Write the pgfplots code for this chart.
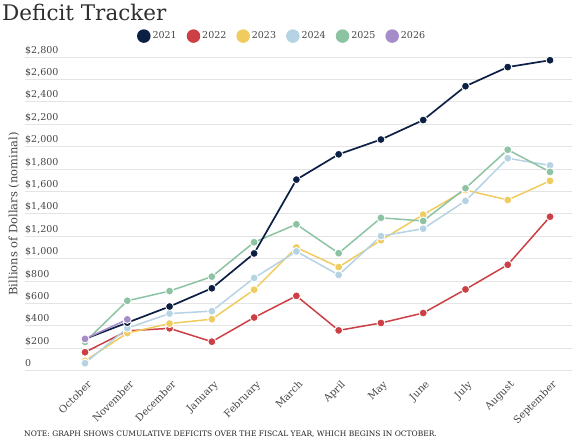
\documentclass[border=0pt]{standalone}
\usepackage{pgfplots}
\pgfplotsset{compat=1.18}
\usepackage{fontspec}
\setmainfont{DejaVu Serif}
\definecolor{c2021}{HTML}{0C1F44}
\definecolor{c2022}{HTML}{CC3F44}
\definecolor{c2023}{HTML}{F0CB5E}
\definecolor{c2024}{HTML}{B6D3E4}
\definecolor{c2025}{HTML}{8CC3A3}
\definecolor{c2026}{HTML}{A68CC8}
\definecolor{txt}{HTML}{454545}
\definecolor{gridc}{HTML}{E4E4E4}
\begin{document}
\begin{tikzpicture}
\useasboundingbox (0pt,0pt) rectangle (586pt,442pt);
\node[anchor=base west, inner sep=0pt, text=black!82] at (2pt,421.3pt) {\fontsize{21.5}{24}\selectfont Deficit Tracker};
\node[anchor=base west, inner sep=0pt, text=black!88] at (24pt,5.3pt) {\fontsize{7.5}{9}\selectfont NOTE: GRAPH SHOWS CUMULATIVE DEFICITS OVER THE FISCAL YEAR, WHICH BEGINS IN OCTOBER.};
\begin{axis}[
  at={(25pt,71.3pt)}, anchor=south west,
  width=547pt, height=313.6pt, scale only axis,
  xmin=-1.42, xmax=11.52, ymin=0, ymax=2800,
  axis line style={draw=none}, tick style={draw=none}, major tick length=0pt,
  ymajorgrids, grid style={gridc, line width=1pt},
  ytick={0,200,...,2800},
  yticklabels={0,\$200,\$400,\$600,\$800,{\$1,000},{\$1,200},{\$1,400},{\$1,600},{\$1,800},{\$2,000},{\$2,200},{\$2,400},{\$2,600},{\$2,800}},
  yticklabel style={anchor=base west, inner sep=0pt, yshift=4pt, font=\fontsize{9.5}{11}\selectfont, text=txt},
  xtick={0,...,11},
  xticklabels={October,November,December,January,February,March,April,May,June,July,August,September},
  xticklabel style={xshift=1.5pt, yshift=-9pt, rotate=45, anchor=north east, inner sep=0pt, font=\fontsize{10}{12}\selectfont, text=txt},
  ylabel={Billions of Dollars (nominal)},
  every axis y label/.style={at={(axis description cs:-0.0201,0.5)}, rotate=90, anchor=center, font=\fontsize{11.5}{13}\selectfont, text=txt},
  clip=false,
  every axis plot/.append style={line width=1.5pt, mark=*, mark size=4pt, mark options={draw=white, line width=0.9pt}},
  legend columns=6,
  legend style={at={(rel axis cs:0.470,1.067)}, anchor=center, draw=none, fill=none, font=\fontsize{9.5}{11}\selectfont, text=txt, inner sep=0pt,
    /tikz/every even column/.append style={column sep=8pt}},
  legend image code/.code={\fill[#1] (0pt,0pt) circle (6pt);},
]
\addlegendimage{c2021}
\addlegendimage{c2022}
\addlegendimage{c2023}
\addlegendimage{c2024}
\addlegendimage{c2025}
\addlegendimage{c2026}
\legend{2021,2022,2023,2024,2025,2026}
\addplot[c2022, forget plot] coordinates {(0,165) (1,356) (2,378) (3,259) (4,475) (5,668) (6,360) (7,426) (8,515) (9,726) (10,946) (11,1375)};
\addplot[c2023, forget plot] coordinates {(0,88) (1,336) (2,421) (3,460) (4,723) (5,1100) (6,925) (7,1165) (8,1393) (9,1613) (10,1524) (11,1695)};
\addplot[c2024, forget plot] coordinates {(0,67) (1,380) (2,510) (3,532) (4,828) (5,1065) (6,855) (7,1202) (8,1268) (9,1516) (10,1897) (11,1833)};
\addplot[c2025, forget plot] coordinates {(0,257) (1,624) (2,711) (3,840) (4,1147) (5,1307) (6,1049) (7,1365) (8,1337) (9,1629) (10,1973) (11,1775)};
\addplot[c2021, forget plot, line width=1.7pt] coordinates {(0,284) (1,429) (2,573) (3,736) (4,1047) (5,1706) (6,1932) (7,2064) (8,2238) (9,2540) (10,2711) (11,2772)};
\addplot[c2026, forget plot] coordinates {(0,284) (1,458)};
\end{axis}
\end{tikzpicture}
\end{document}
